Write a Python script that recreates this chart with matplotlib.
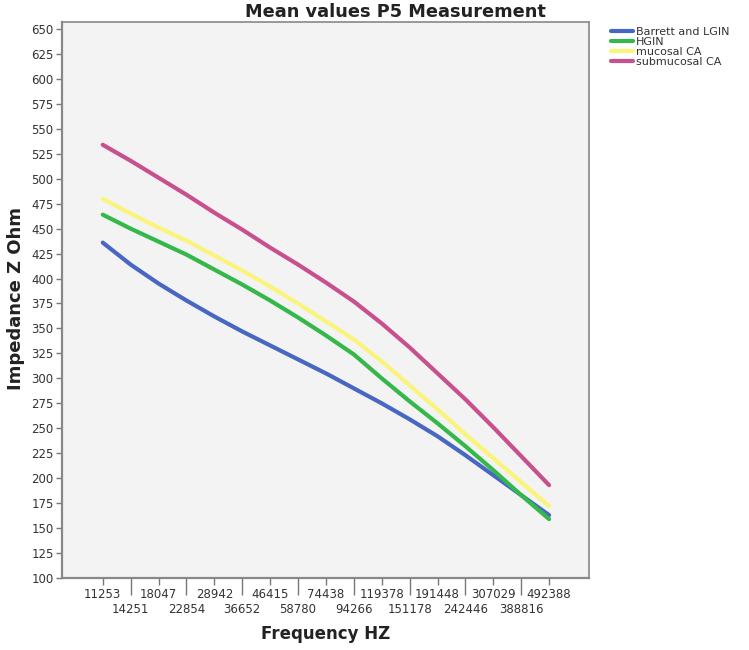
import numpy as np
import matplotlib.pyplot as plt

# frequencies (Hz) used as category labels
freq_labels = ['11253', '14251', '18047', '22854', '28942', '36652', '46415',
               '58780', '74438', '94266', '119378', '151178', '191448',
               '242446', '307029', '388816', '492388']

# mean impedance per group
barrett = [436, 414, 395, 378, 362, 347, 333, 319, 305, 290, 275, 259, 242, 223, 203, 183, 163]
hgin = [464, 450, 437, 424, 409, 394, 378, 361, 343, 324, 300, 277, 255, 232, 208, 183, 159]
mucosal = [480, 465, 451, 438, 423, 408, 392, 375, 357, 339, 317, 293, 269, 244, 220, 196, 172]
submucosal = [534, 518, 501, 484, 466, 449, 431, 414, 396, 377, 355, 331, 305, 279, 251, 222, 193]

names = ['Barrett and LGIN', 'HGIN', 'mucosal CA', 'submucosal CA']
colors = ['#4767c2', '#35b84a', '#fbf47a', '#c9508f']

W, H = 749, 650
fig = plt.figure(figsize=(W / 100, H / 100), dpi=100)
ax = fig.add_axes([62 / W, 1 - 578 / H, (589 - 62) / W, (578 - 22) / H])
ax.set_facecolor('#f3f3f3')

x = np.arange(len(freq_labels))
for vals, name, c in zip([barrett, hgin, mucosal, submucosal], names, colors):
    ax.plot(x, vals, color=c, lw=3, label=name, solid_capstyle='round',
            solid_joinstyle='round')

ax.set_xlim(-1.46, 17.43)
ax.set_ylim(100, 657)
ax.set_yticks(np.arange(100, 651, 25))

# two rows of labels: even on top (major), odd below (minor, longer ticks)
ax.set_xticks(x[::2])
ax.set_xticklabels(freq_labels[::2])
ax.set_xticks(x[1::2], minor=True)
ax.set_xticklabels(freq_labels[1::2], minor=True)
ax.tick_params(axis='x', which='major', length=5, width=1, pad=2, labelsize=8.5,
               color='#777777', labelcolor='#333333')
ax.tick_params(axis='x', which='minor', length=12, width=1, pad=6, labelsize=8.5,
               color='#777777', labelcolor='#333333')
ax.tick_params(axis='y', length=4.5, width=1, pad=1.5, labelsize=8.5,
               color='#777777', labelcolor='#333333')

for s in ax.spines.values():
    s.set_color('#888888')
    s.set_linewidth(1.2)
ax.spines['left'].set_linewidth(1.6)
ax.spines['bottom'].set_linewidth(1.6)

fig.text(395 / W, 1 - 12 / H, 'Mean values P5 Measurement', ha='center', va='center',
         fontsize=12.8, fontweight='bold', color='#222222')
fig.text(16 / W, 1 - 298 / H, 'Impedance Z Ohm', ha='center', va='center', rotation=90,
         fontsize=13, fontweight='bold', color='#222222')
fig.text(326 / W, 1 - 634 / H, 'Frequency HZ', ha='center', va='center',
         fontsize=12, fontweight='bold', color='#222222')

fig.legend(loc='upper left', bbox_to_anchor=(611 / W, 1 - 27 / H), frameon=False,
           fontsize=8, handlelength=1.95, handletextpad=0.3, labelspacing=0.0,
           borderpad=0, borderaxespad=0, labelcolor='#333333')

fig.savefig('out.png', dpi=100)
